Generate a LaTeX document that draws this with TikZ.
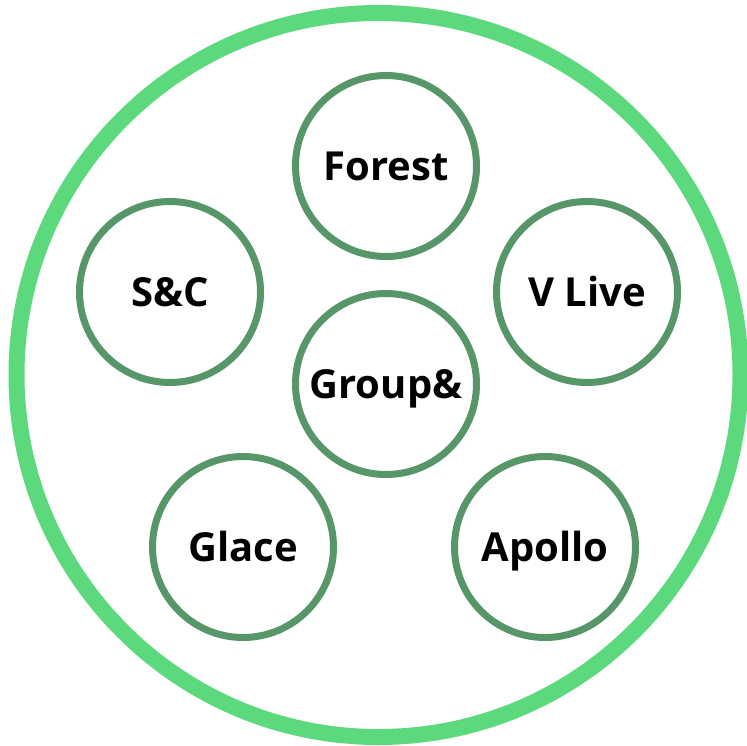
\documentclass[tikz,border=0pt]{standalone}
\usepackage{fontspec}
\setmainfont{Open Sans}
\begin{document}
\begin{tikzpicture}[x=1pt,y=-1pt,
  unit/.style={circle,draw=innergreen,line width=7pt,minimum size=181pt,inner sep=0pt,
    text height=28.5pt,text depth=0pt,
    font=\fontsize{40}{44}\selectfont\bfseries,text=black}]
\definecolor{outergreen}{RGB}{92,217,124}
\definecolor{innergreen}{RGB}{87,150,104}
\useasboundingbox (0,0) rectangle (747,745);
\fill[white] (0,0) rectangle (747,745);
% enclosing ring
\node[circle,draw=outergreen,line width=16pt,minimum size=724pt,inner sep=0pt] (ring) at (378.5,375) {};
% member circles
\node[unit] (forest) at (386,166) {Forest};
\node[unit] (sc) at (170,292) {S\&C};
\node[unit] (vlive) at (587,292) {V Live};
\node[unit] (group) at (386,384) {Group\&};
\node[unit] (glace) at (243,547) {Glace};
\node[unit] (apollo) at (545,547) {Apollo};
\end{tikzpicture}
\end{document}
